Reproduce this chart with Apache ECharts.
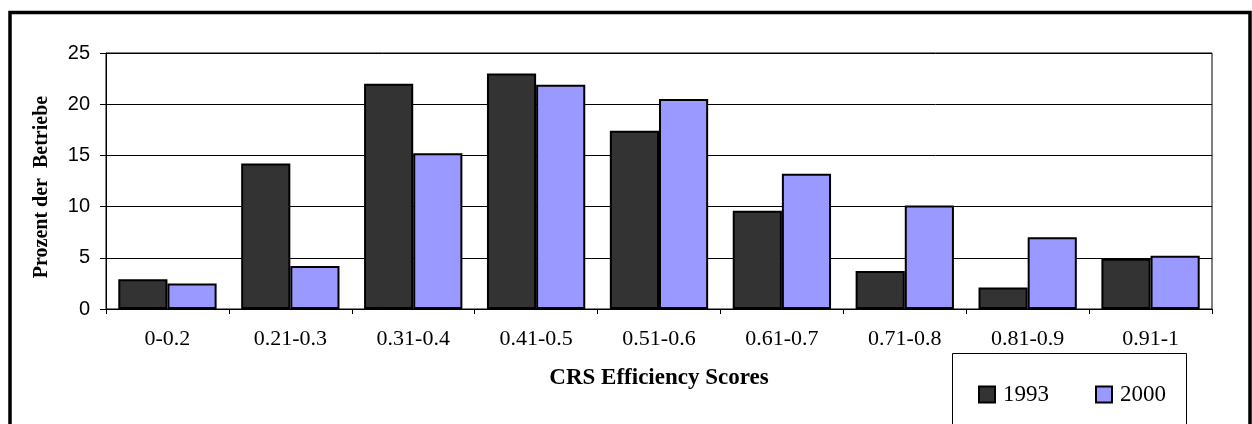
<!DOCTYPE html>
<html>
<head>
<meta charset="utf-8">
<script src="https://cdn.jsdelivr.net/npm/echarts@6/dist/echarts.min.js"></script>
<style>
html,body{margin:0;padding:0;background:#fff;}
#chart{width:1252px;height:424px;}
</style>
</head>
<body>
<div id="chart"></div>
<script>
const categories = ['0-0.2','0.21-0.3','0.31-0.4','0.41-0.5','0.51-0.6','0.61-0.7','0.71-0.8','0.81-0.9','0.91-1'];
const values1993 = [2.9, 14.2, 22.0, 23.0, 17.4, 9.6, 3.7, 2.1, 4.9];
const values2000 = [2.5, 4.2, 15.2, 21.9, 20.5, 13.2, 10.1, 7.0, 5.2];
const seriesNames = ['1993', '2000'];
const yTicks = {min: 0, max: 25, interval: 5};
const xAxisTitle = 'CRS Efficiency Scores';
const yAxisTitle = 'Prozent der  Betriebe';

const serif = "'Liberation Serif', 'Times New Roman', serif";
const sans = "'Liberation Sans', Arial, sans-serif";

const chart = echarts.init(document.getElementById('chart'), null, {renderer: 'canvas'});
chart.setOption({
  animation: false,
  backgroundColor: '#ffffff',
  grid: {left: 106, right: 40, top: 53, bottom: 115, show: true, borderColor: '#000', borderWidth: 1, backgroundColor: 'transparent'},
  legend: {
    data: seriesNames,
    left: 978, top: 383, padding: 0,
    itemWidth: 16, itemHeight: 16, itemGap: 46,
    icon: 'rect',
    textStyle: {fontFamily: serif, fontSize: 23, color: '#000', lineHeight: 16, padding: [0,0,0,3]}
  },
  xAxis: {
    type: 'category',
    data: categories,
    name: xAxisTitle,
    nameLocation: 'middle',
    nameGap: 58,
    nameTextStyle: {fontFamily: serif, fontSize: 23, fontWeight: 'bold', color: '#000'},
    axisLine: {lineStyle: {color: '#000', width: 1}},
    axisTick: {show: true, length: 5, lineStyle: {color: '#000'}},
    axisLabel: {fontFamily: serif, fontSize: 22, color: '#000', margin: 19, interval: 0}
  },
  yAxis: {
    type: 'value',
    min: yTicks.min, max: yTicks.max, interval: yTicks.interval,
    axisLine: {show: true, lineStyle: {color: '#000', width: 1}},
    axisTick: {show: true, length: 6, lineStyle: {color: '#000'}},
    axisLabel: {fontFamily: sans, fontSize: 20, color: '#000', margin: 16},
    splitLine: {show: true, lineStyle: {color: '#000', width: 1}}
  },
  series: [
    {name: seriesNames[0], type: 'bar', data: values1993, barGap: '0%', barCategoryGap: '20%',
     itemStyle: {color: '#333333', borderColor: '#000', borderWidth: 2}},
    {name: seriesNames[1], type: 'bar', data: values2000, barGap: '0%', barCategoryGap: '20%',
     itemStyle: {color: '#9999FF', borderColor: '#000', borderWidth: 2}}
  ],
  graphic: [
    {type: 'rect', shape: {x: 10, y: 12.5, width: 1240, height: 500}, style: {fill: 'none', stroke: '#000', lineWidth: 3.5}, z: 10},
    {type: 'rect', shape: {x: 952.5, y: 353.5, width: 234, height: 120}, style: {fill: 'none', stroke: '#000', lineWidth: 1}, z: 10},
    {type: 'text', x: 42, y: 187, rotation: Math.PI/2,
     style: {text: yAxisTitle, fontFamily: serif, fontSize: 20, fontWeight: 'bold', fill: '#000', textAlign: 'center', textVerticalAlign: 'middle'}}
  ]
});
</script>
</body>
</html>
